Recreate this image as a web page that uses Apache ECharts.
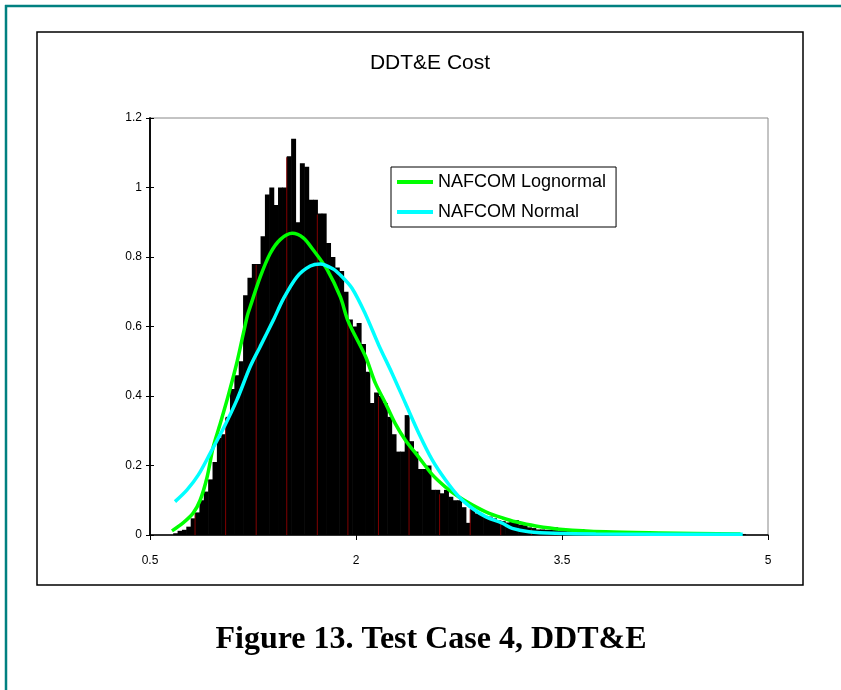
<!DOCTYPE html>
<html>
<head>
<meta charset="utf-8">
<title>DDT&amp;E Cost</title>
<script src="https://cdn.jsdelivr.net/npm/echarts@6/dist/echarts.min.js"></script>
<style>
  html, body { margin: 0; padding: 0; background: #fff; }
  #main { width: 841px; height: 690px; }
</style>
</head>
<body>
<div id="main"></div>
<script>
// histogram bins (left edge of first bin, bin width) and bar heights
var binStart = 0.669
var binWidth = 0.0318
var binHeights = [
  0.005, 0.012, 0.015, 0.024, 0.048, 0.065, 0.10, 0.125, 0.16, 0.21,
  0.28, 0.29, 0.34, 0.42, 0.46, 0.50, 0.69, 0.74, 0.78, 0.78,
  0.86, 0.98, 1.00, 0.95, 1.00, 1.00, 1.09, 1.14, 0.90, 1.07,
  1.06, 0.965, 0.965, 0.925, 0.925, 0.84, 0.80, 0.77, 0.76, 0.70,
  0.62, 0.60, 0.61, 0.55, 0.47, 0.38, 0.41, 0.40, 0.38, 0.34,
  0.29, 0.24, 0.24, 0.345, 0.27, 0.24, 0.19, 0.19, 0.20, 0.13,
  0.13, 0.12, 0.13, 0.11, 0.10, 0.10, 0.08, 0.035, 0.077, 0.062,
  0.058, 0.055, 0.053, 0.048, 0.042, 0.04, 0.036, 0.04, 0.043, 0.03,
  0.028, 0.022, 0.02, 0.016, 0.016, 0.015, 0.015, 0.022, 0.012, 0.012,
  0.011, 0.011, 0.012, 0.017, 0.01, 0.009, 0.009, 0.008, 0.007, 0.006,
  0.005, 0.005, 0.004, 0.005, 0.004, 0.004, 0.003, 0.003, 0.003, 0.002,
  0.002, 0.002, 0.002, 0.002, 0.001, 0.002, 0.001, 0.002, 0.002, 0.001,
  0.001, 0.001, 0.001, 0.001, 0.002, 0.002, 0.001, 0.001, 0.001, 0.002,
  0.003
]

// fitted curves, points
var lognormX = [0.660, 0.741, 0.814, 0.865, 0.916, 0.960, 1.011, 1.069, 1.135, 1.208,
  1.229, 1.302, 1.375, 1.448, 1.536, 1.616, 1.689, 1.791, 1.886, 1.944,
  2.068, 2.141, 2.214, 2.287, 2.360, 2.455, 2.557, 2.652, 2.747, 2.849,
  2.965, 3.067, 3.162, 3.308, 3.505, 3.819, 4.205, 4.800]
var lognormY = [0.012, 0.035, 0.063, 0.10, 0.167, 0.253, 0.32, 0.40, 0.50, 0.63,
  0.656, 0.742, 0.81, 0.85, 0.868, 0.855, 0.82, 0.763, 0.685, 0.614,
  0.515, 0.437, 0.38, 0.32, 0.273, 0.225, 0.173, 0.138, 0.11, 0.086,
  0.063, 0.049, 0.038, 0.026, 0.016, 0.009, 0.006, 0.003]

var normalX = [0.682, 0.768, 0.852, 0.938, 1.035, 1.132, 1.229, 1.302, 1.399, 1.472,
  1.570, 1.667, 1.740, 1.837, 1.886, 1.971, 2.068, 2.165, 2.263, 2.360,
  2.457, 2.555, 2.652, 2.749, 2.846, 2.943, 3.065, 3.138, 3.259, 3.454,
  3.746, 4.816]
var normalY = [0.096, 0.129, 0.173, 0.235, 0.307, 0.388, 0.484, 0.542, 0.619, 0.68,
  0.743, 0.774, 0.78, 0.765, 0.748, 0.71, 0.636, 0.547, 0.465, 0.379,
  0.293, 0.216, 0.158, 0.11, 0.077, 0.053, 0.034, 0.019, 0.0096, 0.005,
  0.003, 0.002]

var xTicks = { min: 0.5, max: 5, interval: 1.5 }
var yTicks = { min: 0, max: 1.2, interval: 0.2 }

function pairs (xs, ys) {
  return xs.map(function (x, i) { return [x, ys[i]] })
}

var bins = binHeights.map(function (h, i) {
  return [binStart + i * binWidth, binStart + (i + 1) * binWidth, h, i]
})

function renderBin (params, api) {
  var topLeft = api.coord([api.value(0), api.value(2)])
  var bottomRight = api.coord([api.value(1), 0])
  var children = [{
    type: 'rect',
    shape: {
      x: topLeft[0],
      y: topLeft[1],
      width: bottomRight[0] - topLeft[0] + 0.6,
      height: bottomRight[1] - topLeft[1]
    },
    style: { fill: '#000' }
  }]
  // the dark red bar borders only show through every few bars
  if (api.value(3) % 7 === 5) {
    children.push({
      type: 'line',
      shape: { x1: topLeft[0], y1: topLeft[1] + 1, x2: topLeft[0], y2: bottomRight[1] },
      style: { stroke: '#800000', lineWidth: 1 }
    })
  }
  return { type: 'group', children: children }
}

var axisColor = '#000'
var labelFont = { color: '#000', fontSize: 12, fontFamily: 'Arial, "Liberation Sans", sans-serif' }

var option = {
  backgroundColor: '#fff',
  animation: false,
  grid: {
    left: 150,
    right: 73,
    top: 118,
    bottom: 155,
    show: true,
    borderColor: '#888',
    borderWidth: 1
  },
  legend: {
    data: ['NAFCOM Lognormal', 'NAFCOM Normal'],
    orient: 'vertical',
    left: 391,
    top: 167,
    padding: [6, 10, 6, 6],
    itemGap: 12,
    itemWidth: 36,
    itemHeight: 4,
    icon: 'rect',
    borderColor: '#000',
    borderWidth: 1,
    backgroundColor: '#fff',
    textStyle: { color: '#000', fontSize: 18, fontFamily: 'Arial, "Liberation Sans", sans-serif' }
  },
  xAxis: {
    type: 'value',
    min: xTicks.min,
    max: xTicks.max,
    interval: xTicks.interval,
    axisLine: { lineStyle: { color: axisColor, width: 1.5 } },
    axisTick: { show: true, length: 5, lineStyle: { color: axisColor } },
    axisLabel: Object.assign({ margin: 20 }, labelFont),
    splitLine: { show: false }
  },
  yAxis: [
    {
      type: 'value',
      position: 'left',
      min: yTicks.min,
      max: yTicks.max,
      interval: yTicks.interval,
      axisLine: { show: true, lineStyle: { color: axisColor, width: 1.5 } },
      axisTick: { show: true, length: 4, lineStyle: { color: axisColor } },
      axisLabel: Object.assign({ margin: 8 }, labelFont),
      splitLine: { show: false }
    },
    {
      // second copy of the axis only to get ticks crossing the line
      type: 'value',
      position: 'left',
      min: yTicks.min,
      max: yTicks.max,
      interval: yTicks.interval,
      axisLine: { show: true, lineStyle: { color: axisColor, width: 1.5 } },
      axisTick: { show: true, inside: true, length: 4, lineStyle: { color: axisColor } },
      axisLabel: { show: false },
      splitLine: { show: false }
    }
  ],
  series: [
    {
      name: 'histogram',
      type: 'custom',
      renderItem: renderBin,
      encode: { x: [0, 1], y: 2 },
      data: bins,
      z: 1
    },
    {
      name: 'NAFCOM Lognormal',
      type: 'line',
      data: pairs(lognormX, lognormY),
      smooth: 0.3,
      symbol: 'none',
      color: '#00ff00',
      lineStyle: { color: '#00ff00', width: 3.5 },
      z: 3
    },
    {
      name: 'NAFCOM Normal',
      type: 'line',
      data: pairs(normalX, normalY),
      smooth: 0.3,
      symbol: 'none',
      color: '#00ffff',
      lineStyle: { color: '#00ffff', width: 3.5 },
      z: 4
    }
  ],
  graphic: [
    // teal page frame
    { type: 'line', shape: { x1: 5, y1: 6, x2: 841, y2: 6 }, style: { stroke: '#008080', lineWidth: 2.5 } },
    { type: 'line', shape: { x1: 6, y1: 5, x2: 6, y2: 690 }, style: { stroke: '#008080', lineWidth: 2.5 } },
    // chart area box
    {
      type: 'rect',
      shape: { x: 37, y: 32, width: 766, height: 553 },
      style: { fill: 'none', stroke: '#000', lineWidth: 1.5 },
      z: -1
    },
    {
      type: 'text',
      x: 430,
      y: 63,
      style: {
        text: 'DDT&E Cost',
        textAlign: 'center',
        textVerticalAlign: 'middle',
        fill: '#000',
        font: '21px Arial, "Liberation Sans", sans-serif'
      }
    },
    {
      type: 'text',
      x: 431,
      y: 640,
      style: {
        text: 'Figure 13. Test Case 4, DDT&E',
        textAlign: 'center',
        textVerticalAlign: 'middle',
        fill: '#000',
        font: 'bold 32px "Times New Roman", "Liberation Serif", serif'
      }
    }
  ]
}

var myChart = echarts.init(document.getElementById('main'))
myChart.setOption(option)
</script>
</body>
</html>
